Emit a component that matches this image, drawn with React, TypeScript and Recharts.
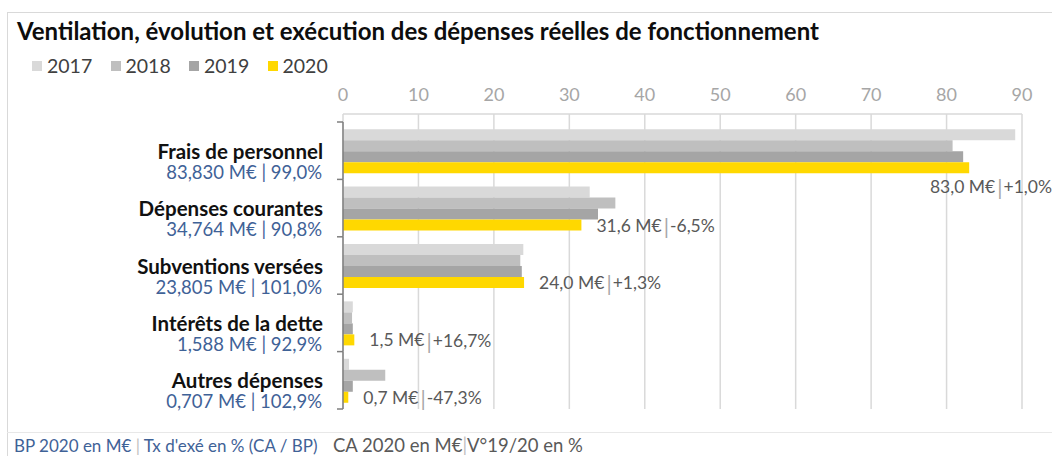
import React from "react";
import { BarChart, Bar, XAxis, YAxis, CartesianGrid, LabelList } from "recharts";

const categories = [
  "Frais de personnel",
  "Dépenses courantes",
  "Subventions versées",
  "Intérêts de la dette",
  "Autres dépenses",
];
const bp2020 = [83.83, 34.764, 23.805, 1.588, 0.707];
const txExe = [99.0, 90.8, 101.0, 92.9, 102.9];
const v2017 = [89.1, 32.7, 23.9, 1.3, 0.8];
const v2018 = [80.8, 36.1, 23.5, 1.2, 5.6];
const v2019 = [82.2, 33.8, 23.7, 1.3, 1.3];
const v2020 = [83.0, 31.6, 24.0, 1.5, 0.7];
const variation = [1.0, -6.5, 1.3, 16.7, -47.3];
const xTicks = [0, 10, 20, 30, 40, 50, 60, 70, 80, 90];

const series = [
  { key: "y2017", label: "2017", color: "#d9d9d9" },
  { key: "y2018", label: "2018", color: "#bfbfbf" },
  { key: "y2019", label: "2019", color: "#a5a5a5" },
  { key: "y2020", label: "2020", color: "#ffd800" },
];

const data = categories.map((name, i) => ({
  name,
  y2017: v2017[i],
  y2018: v2018[i],
  y2019: v2019[i],
  y2020: v2020[i],
}));

const FONT = "Lato, 'Noto Sans', sans-serif";
const BLUE = "#3f6297";
const PLOT_LEFT = 343;

const fr = (v: number, d: number) => v.toFixed(d).replace(".", ",");
const pct = (v: number) => (v > 0 ? "+" : "") + fr(v, 1) + "%";

const CategoryTick = (props: any) => {
  const { y, payload, index } = props;
  const half = payload && payload.offset ? payload.offset : 28.7;
  const i = payload ? payload.index ?? index : index;
  return (
    <g>
      <line x1={PLOT_LEFT} x2={PLOT_LEFT} y1={y - half} y2={y + half} stroke="#7f7f7f" strokeWidth={1.5} />
      {i === 0 && <line x1={PLOT_LEFT - 6} x2={PLOT_LEFT} y1={y - half} y2={y - half} stroke="#7f7f7f" strokeWidth={1.5} />}
      <line x1={PLOT_LEFT - 6} x2={PLOT_LEFT} y1={y + half} y2={y + half} stroke="#7f7f7f" strokeWidth={1.5} />
      <text x={323} y={y} textAnchor="end" dominantBaseline="central" fontFamily={FONT} fontWeight="bold" fontSize={20.5} fill="#111">
        {payload.value}
      </text>
      <text x={322} y={y + 21} textAnchor="end" dominantBaseline="central" fontFamily={FONT} fontSize={18.5} fill={BLUE}>
        {fr(bp2020[i], 3)} M€ | {fr(txExe[i], 1)}%
      </text>
    </g>
  );
};

const ValueLabel = (props: any) => {
  const { x, y, width, height, index } = props;
  const end = x + width;
  const below = end > 900;
  const tx = below ? 1052 : end + 15;
  const ty = below ? y + height + 13 : y + height / 2;
  return (
    <text
      x={tx}
      y={ty}
      textAnchor={below ? "end" : "start"}
      dominantBaseline="central"
      fontFamily={FONT}
      fontSize={17.5}
      fill="#595959"
    >
      {fr(v2020[index], 1)} M€
      <tspan fill="#a6a6a6" fontSize={21} dx={2}>|</tspan>
      <tspan dx={1}>{pct(variation[index])}</tspan>
    </text>
  );
};

export default function App() {
  return (
    <div style={{ position: "absolute", left: 0, top: 0, width: 1052, height: 456, overflow: "hidden", background: "#fff", fontFamily: FONT }}>
      <div style={{ position: "absolute", left: 7, top: 12, width: 1100, height: 500, border: "1.5px solid #d9d9d9" }} />
      <div style={{ position: "absolute", left: 7, top: 432, width: 1100, borderTop: "1px solid #e8e8e8" }} />
      <div style={{ position: "absolute", left: 17, top: 16, fontSize: 24, fontWeight: "bold", color: "#0d0d0d", whiteSpace: "nowrap" }}>
        Ventilation, évolution et exécution des dépenses réelles de fonctionnement
      </div>
      <div style={{ position: "absolute", left: 32, top: 54, display: "flex", fontSize: 19.5, color: "#404040" }}>
        {series.map((s) => (
          <div key={s.key} style={{ display: "flex", alignItems: "center", width: 78.5 }}>
            <span style={{ width: 10, height: 10, background: s.color, marginRight: 5 }} />
            <span>{s.label}</span>
          </div>
        ))}
      </div>
      <div style={{ position: "absolute", left: 0, top: 0 }}>
        <BarChart
          width={1052}
          height={456}
          data={data}
          layout="vertical"
          margin={{ top: 84, right: 30, bottom: 47, left: 0 }}
          barCategoryGap="12.5%"
          barGap={0}
        >
          <CartesianGrid horizontal={false} stroke="#d9d9d9" strokeWidth={1.5} />
          <XAxis
            type="number"
            orientation="top"
            domain={[0, 90]}
            ticks={xTicks}
            height={30}
            axisLine={{ stroke: "#d9d9d9", strokeWidth: 1.5 }}
            tickLine={false}
            tickMargin={7}
            tick={{ fill: "#a6a6a6", fontSize: 18, fontFamily: FONT }}
          />
          <YAxis
            type="category"
            dataKey="name"
            width={PLOT_LEFT}
            padding={{ top: 8, bottom: 0 }}
            axisLine={false}
            tickLine={false}
            tick={<CategoryTick />}
            interval={0}
          />
          {series.map((s) => (
            <Bar key={s.key} dataKey={s.key} fill={s.color} isAnimationActive={false}>
              {s.key === "y2020" && <LabelList dataKey="y2020" content={<ValueLabel />} />}
            </Bar>
          ))}
        </BarChart>
      </div>
      <div style={{ position: "absolute", left: 14, top: 435, fontSize: 17, color: BLUE, whiteSpace: "nowrap" }}>
        BP 2020 en M€ <span style={{ color: "#bfbfbf" }}>|</span> Tx d'exé en % (CA / BP)
      </div>
      <div style={{ position: "absolute", left: 333, top: 434, fontSize: 18.5, color: "#595959", whiteSpace: "nowrap" }}>
        CA 2020 en M€<span style={{ color: "#bfbfbf" }}>|</span>V°19/20 en %
      </div>
    </div>
  );
}
